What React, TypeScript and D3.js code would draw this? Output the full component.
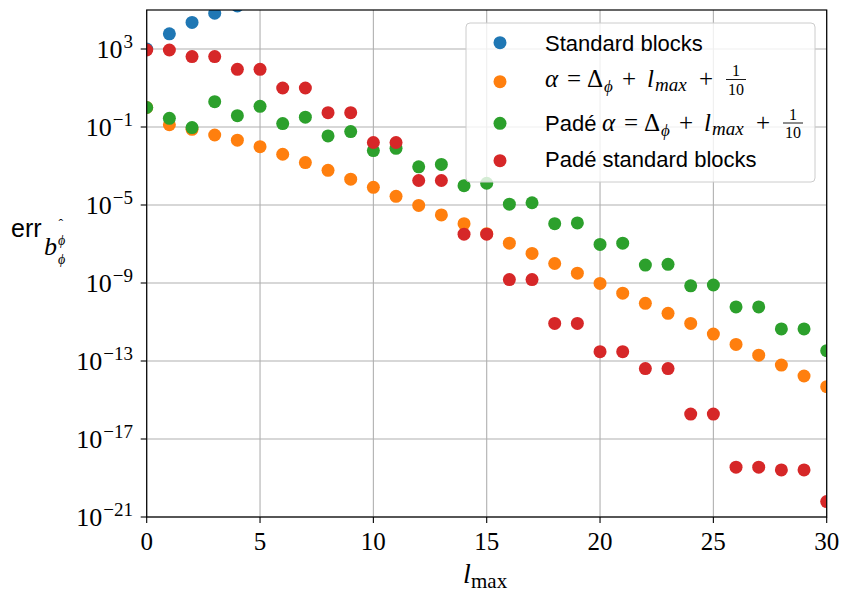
import * as d3 from "d3";

// l_max values on the x axis
const lmax = [0, 1, 2, 3, 4, 5, 6, 7, 8, 9, 10, 11, 12, 13, 14, 15, 16, 17, 18, 19, 20, 21, 22, 23, 24, 25, 26, 27, 28, 29, 30];

// errors (log scale)
const standardBlocks = [1.0e3, 6.0e3, 2.3e4, 6.8e4, 1.6e5];
const alphaShifted = [
  1.0, 1.3e-1, 7.6e-2, 3.9e-2, 2.1e-2, 9.8e-3, 4.0e-3, 1.5e-3, 6.0e-4, 2.1e-4, 8.1e-5, 2.8e-5, 9.5e-6, 3.1e-6, 1.1e-6,
  3.4e-7, 1.1e-7, 3.3e-8, 1.0e-8, 3.2e-9, 9.5e-10, 3.0e-10, 9.1e-11, 2.8e-11, 8.5e-12, 2.4e-12, 7.1e-13, 2.0e-13,
  6.2e-14, 1.7e-14, 4.8e-15,
];
const padeAlpha = [
  1.0, 2.8e-1, 9.3e-2, 2.0, 3.8e-1, 1.15, 1.5e-1, 3.2e-1, 3.5e-2, 5.8e-2, 6.2e-3, 8.1e-3, 9.1e-4, 1.2e-3, 9.8e-5,
  1.3e-4, 1.1e-5, 1.3e-5, 1.1e-6, 1.2e-6, 9.5e-8, 1.1e-7, 8.3e-9, 9.1e-9, 7.2e-10, 7.9e-10, 5.9e-11, 5.9e-11, 4.4e-12,
  4.4e-12, 3.4e-13,
];
const padeStandard = [
  8.9e2, 8.9e2, 4.1e2, 4.1e2, 9.1e1, 9.1e1, 1.0e1, 1.0e1, 5.4e-1, 5.4e-1, 1.6e-2, 1.6e-2, 1.8e-4, 1.8e-4, 3.2e-7,
  3.2e-7, 1.5e-9, 1.5e-9, 8.5e-12, 8.5e-12, 3.0e-13, 3.0e-13, 4.1e-14, 4.1e-14, 1.9e-16, 1.9e-16, 3.6e-19, 3.6e-19,
  2.6e-19, 2.6e-19, 6.2e-21,
];

const xTicks = [0, 5, 10, 15, 20, 25, 30];
const yTickExponents = [-21, -17, -13, -9, -5, -1, 3];

const colors = ["#1f77b4", "#ff7f0e", "#2ca02c", "#d62728"];

const W = 842;
const H = 592;
const left = 146.7;
const right = 826.7;
const top = 10;
const bottom = 517;

const serif = "'Liberation Serif', 'DejaVu Serif', serif";
const sans = "'Liberation Sans', 'DejaVu Sans', sans-serif";

// alpha = Delta_phi + l_max + 1/10, laid out TeX-like from a start x
const MathLabel = ({ x0, base }: { x0: number; base: number }) => (
  <g fontFamily={serif} fontSize={25}>
    <text x={x0} y={base} fontStyle="italic">α</text>
    <text x={x0 + 22} y={base}>=</text>
    <text x={x0 + 42} y={base}>Δ</text>
    <text x={x0 + 59} y={base + 5} fontSize={17} fontStyle="italic">ϕ</text>
    <text x={x0 + 77} y={base}>+</text>
    <text x={x0 + 102} y={base} fontStyle="italic">l</text>
    <text x={x0 + 110} y={base + 4} fontSize={19} fontStyle="italic">max</text>
    <text x={x0 + 154} y={base}>+</text>
    <g fontSize={16} textAnchor="middle">
      <text x={x0 + 191} y={base - 11}>1</text>
      <line x1={x0 + 181} x2={x0 + 201} y1={base - 7.5} y2={base - 7.5} stroke="#000" strokeWidth={0.9} />
      <text x={x0 + 191} y={base + 7.5}>10</text>
    </g>
  </g>
);

const App = () => {
  const x = d3.scaleLinear().domain([0, 30]).range([left, right]);
  const y = d3.scaleLog().domain([1e-21, 1e5]).range([bottom, top]);

  const series = [standardBlocks, alphaShifted, padeAlpha, padeStandard];

  const legendMarkerY = [42.7, 81.7, 123.3, 160.7];
  const legendTextY = [50.5, 87, 130.5, 166.5];

  return (
    <svg width={W} height={H} style={{ position: "absolute", left: 0, top: 0, background: "#fff" }}>
      <defs>
        <clipPath id="plot-clip">
          <rect x={left} y={top} width={right - left} height={bottom - top} />
        </clipPath>
      </defs>

      {/* grid */}
      <g stroke="#b0b0b0" strokeWidth={1.1}>
        {xTicks.map((t) => (
          <line key={"gx" + t} x1={x(t)} x2={x(t)} y1={top} y2={bottom} />
        ))}
        {yTickExponents.map((e) => (
          <line key={"gy" + e} x1={left} x2={right} y1={y(Math.pow(10, e))} y2={y(Math.pow(10, e))} />
        ))}
      </g>

      {/* points */}
      <g clipPath="url(#plot-clip)">
        {series.map((vals, s) =>
          vals.map((v, i) => (
            <circle key={s + "-" + i} cx={x(lmax[i])} cy={y(v)} r={6.5} fill={colors[s]} />
          ))
        )}
      </g>

      {/* frame */}
      <rect x={left} y={top} width={right - left} height={bottom - top} fill="none" stroke="#000" strokeWidth={1.2} />

      {/* x axis */}
      <g>
        {xTicks.map((t) => (
          <g key={"xt" + t}>
            <line x1={x(t)} x2={x(t)} y1={bottom} y2={bottom + 6} stroke="#000" strokeWidth={1.1} />
            <text x={x(t)} y={550} textAnchor="middle" fontFamily={serif} fontSize={25}>
              {t}
            </text>
          </g>
        ))}
      </g>

      {/* y axis */}
      <g>
        {yTickExponents.map((e) => {
          const ty = y(Math.pow(10, e));
          return (
            <g key={"yt" + e}>
              <line x1={left - 6} x2={left} y1={ty} y2={ty} stroke="#000" strokeWidth={1.1} />
              <text x={133} y={ty + 9} textAnchor="end" fontFamily={serif} fontSize={26}>
                10
                <tspan fontSize={19} dy={-10} dx={1}>
                  {e < 0 ? "−" + Math.abs(e) : String(e)}
                </tspan>
              </text>
            </g>
          );
        })}
      </g>

      {/* axis labels */}
      <g>
        <text x={463} y={583} fontFamily={serif} fontSize={28} fontStyle="italic">
          l
        </text>
        <text x={471} y={588} fontFamily={serif} fontSize={21}>
          max
        </text>
      </g>
      <g>
        <text x={11} y={236.7} fontFamily={sans} fontSize={25}>
          err
        </text>
        <text x={44} y={255} fontFamily={serif} fontSize={26} fontStyle="italic">
          b
        </text>
        <text x={58} y={245} fontFamily={serif} fontSize={14} fontStyle="italic">
          ϕ
        </text>
        <text x={58.5} y={229} fontFamily={serif} fontSize={14}>
          ˆ
        </text>
        <text x={58} y={264} fontFamily={serif} fontSize={14} fontStyle="italic">
          ϕ
        </text>
      </g>

      {/* legend */}
      <g>
        <rect x={466} y={23} width={349} height={159} rx={4} fill="#fff" fillOpacity={0.8} stroke="#cccccc" strokeWidth={1} />
        {colors.map((c, i) => (
          <circle key={"lm" + i} cx={500} cy={legendMarkerY[i]} r={6.5} fill={c} />
        ))}
        <text x={545} y={legendTextY[0]} fontFamily={sans} fontSize={22}>
          Standard blocks
        </text>
        <MathLabel x0={545} base={legendTextY[1]} />
        <text x={545} y={legendTextY[2]} fontFamily={sans} fontSize={22}>
          Padé
        </text>
        <MathLabel x0={602} base={legendTextY[2]} />
        <text x={545} y={legendTextY[3]} fontFamily={sans} fontSize={22}>
          Padé standard blocks
        </text>
      </g>
    </svg>
  );
};

export default App;
